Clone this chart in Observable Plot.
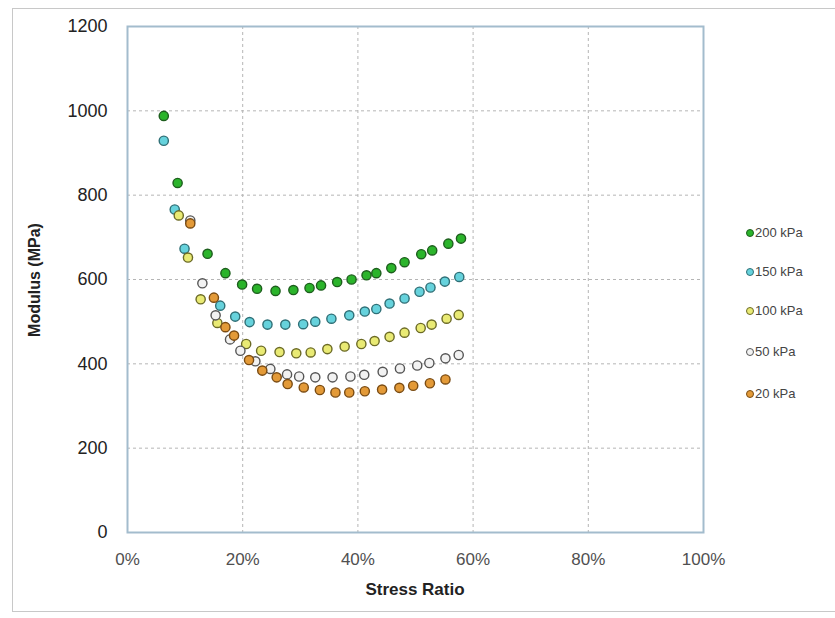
<!DOCTYPE html>
<html><head><meta charset="utf-8">
<script src="https://cdn.jsdelivr.net/npm/d3@7"></script>
<script src="https://cdn.jsdelivr.net/npm/@observablehq/plot@0.6"></script>
<style>
body{margin:0;background:#fff;font-family:"Liberation Sans",Arial,sans-serif;}
#wrap{position:relative;width:835px;height:618px;overflow:hidden;}
#border{position:absolute;left:12px;top:8px;width:840px;height:604px;border:1px solid #c8c8c8;box-sizing:border-box;}
#chart{position:absolute;left:0;top:0;}
.title{position:absolute;font-weight:bold;color:#222;white-space:nowrap;}
#xtitle{left:0;width:830px;text-align:center;top:580px;font-size:17px;}
#ytitle{left:35px;top:280px;font-size:16px;transform:translate(-50%,-50%) rotate(-90deg);}
#legend{position:absolute;left:746px;top:0;}
.item{position:absolute;left:0;white-space:nowrap;font-size:13px;color:#444;height:16px;line-height:16px;}
.item span.m{display:inline-block;width:6px;height:6px;border-radius:50%;border:1px solid;vertical-align:middle;margin-right:1px;position:relative;top:-1px;}
</style></head>
<body>
<div id="wrap">
<div id="border"></div>
<div id="chart"></div>
<div id="xtitle" class="title">Stress Ratio</div>
<div id="ytitle" class="title">Modulus (MPa)</div>
<div id="legend"></div>
</div>
<script>
const seriesNames = ["200 kPa","150 kPa","100 kPa","50 kPa","20 kPa"];
const fills = ["#2bb42b","#66d2dc","#e9ea74","#f2f2f2","#e39a38"];
const strokes = ["#1d5e1d","#2f6f76","#6b6a25","#555555","#7a4b12"];

const ratio200 = [6.3,8.7,13.9,17.0,19.9,22.5,25.7,28.8,31.6,33.6,36.4,38.9,41.5,43.2,45.8,48.1,51.0,52.9,55.7,57.9];
const modulus200 = [988,829,661,615,588,578,573,575,580,586,594,600,610,615,627,641,660,669,685,697];

const ratio150 = [6.3,8.2,9.9,16.1,18.7,21.2,24.3,27.4,30.5,32.6,35.4,38.5,41.2,43.2,45.5,48.1,50.7,52.6,55.1,57.6];
const modulus150 = [929,766,673,538,512,499,493,493,494,500,507,515,524,530,543,555,571,581,595,606];

const ratio100 = [8.9,10.5,12.7,15.6,20.6,23.2,26.4,29.3,31.8,34.7,37.7,40.6,42.9,45.5,48.1,50.9,52.8,55.4,57.5];
const modulus100 = [752,652,553,497,447,431,428,425,427,435,441,447,454,464,474,485,493,507,516];

const ratio50 = [10.9,13.0,15.3,17.8,19.6,22.2,24.8,27.7,29.8,32.6,35.6,38.7,41.1,44.3,47.3,50.3,52.4,55.2,57.5];
const modulus50 = [740,591,515,458,431,406,388,375,370,368,368,370,374,381,389,396,402,413,421];

const ratio20 = [10.9,15.0,17.0,18.5,21.1,23.4,25.9,27.8,30.6,33.4,36.1,38.5,41.2,44.2,47.2,49.6,52.5,55.2];
const modulus20 = [733,557,487,467,409,384,368,352,344,338,332,332,335,339,343,348,354,363];

const xTicks = [0,20,40,60,80,100];
const yTicks = [0,200,400,600,800,1000,1200];

const ratios = [ratio200,ratio150,ratio100,ratio50,ratio20];
const moduli = [modulus200,modulus150,modulus100,modulus50,modulus20];
const rows = seriesNames.map((s,i)=>ratios[i].map((r,j)=>({series:s,ratio:r,modulus:moduli[i][j]})));

const plot = Plot.plot({
  width:835, height:618,
  marginLeft:127, marginRight:132, marginTop:26, marginBottom:86,
  style:{fontFamily:'"Liberation Sans",Arial,sans-serif',fontSize:"15px",color:"#222",background:"transparent"},
  x:{domain:[0,100]},
  y:{domain:[0,1200]},
  marks:[
    Plot.gridX(xTicks.slice(1,-1),{stroke:"#b5b5b5",strokeOpacity:1,strokeDasharray:"3,3"}),
    Plot.gridY(yTicks.slice(1,-1),{stroke:"#b5b5b5",strokeOpacity:1,strokeDasharray:"3,3"}),
    Plot.frame({stroke:"#a3bccd",strokeWidth:2}),
    Plot.axisX(xTicks,{tickSize:0,tickPadding:20,fontSize:17,fill:"#505050",label:null,tickFormat:d=>d+"%"}),
    Plot.axisY(yTicks,{tickSize:0,tickPadding:20,fontSize:18,fill:"#222",label:null,tickFormat:d=>String(d)}),
    ...rows.map((r,i)=>Plot.dot(r,{x:"ratio",y:"modulus",r:4.6,fill:fills[i],stroke:strokes[i],strokeWidth:1.4}))
  ]
});
document.getElementById("chart").appendChild(plot);

const legendY = [233,272,311,352,394];
const leg = document.getElementById("legend");
seriesNames.forEach((s,i)=>{
  const d = document.createElement("div");
  d.className="item";
  d.style.top=(legendY[i]-8)+"px";
  d.innerHTML=`<span class="m" style="background:${fills[i]};border-color:${strokes[i]}"></span>${s}`;
  leg.appendChild(d);
});
</script>
</body></html>
